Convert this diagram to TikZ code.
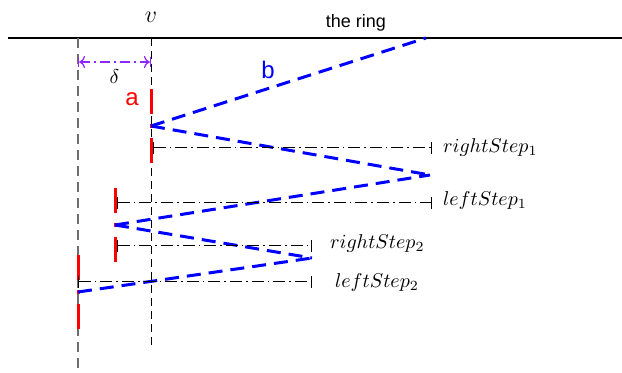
\documentclass[tikz,border=0pt]{standalone}
\usepackage{fontspec}
\setsansfont{Liberation Sans}
\usepackage{tikz}
\usetikzlibrary{arrows.meta, positioning, calc}
\definecolor{cRay}{RGB}{0,0,255}
\definecolor{cStop}{RGB}{255,0,0}
\definecolor{cDelta}{RGB}{140,40,255}
\definecolor{cGuide}{RGB}{110,110,110}
\tikzset{
	ringline/.style ={line width=0.9pt},
	vguide/.style   ={line width=0.5pt, dash pattern=on 4pt off 2.5pt},
	wguide/.style   ={line width=0.9pt, cGuide, dash pattern=on 5pt off 3pt},
	deltaarrow/.style={cDelta, line width=0.6pt, dash pattern=on 5pt off 2pt on 1pt off 2pt, |<->|},
	% path of the ray and the stops on it
	ray/.style      ={cRay, line width=1.5pt, dash pattern=on 7pt off 4pt},
	stopmark/.style ={cStop, line width=1.5pt, dash pattern=on 12.5pt off 5pt on 2pt off 5pt},
	% step measures
	span/.style     ={line width=0.5pt, dash pattern=on 6pt off 2pt on 0.8pt off 2pt, {Bar[width=6pt]}-{Bar[width=6pt]}},
	lbl/.style      ={font=\sffamily\large},
}
\begin{document}
\begin{tikzpicture}[x=0.5pt, y=-0.5pt]
	\useasboundingbox (0,0) rectangle (622,373);
	% the ring and the guides
	\coordinate (ringL) at (8,38);
	\coordinate (ringR) at (622,38);
	\draw[ringline] (ringL) -- (ringR);
	\node[font=\sffamily\small] (ring) at (356,23) {the ring};
	\node[font=\large] (v) at (151,17) {$v$};
	\coordinate (vtop) at (151,38);
	\coordinate (vbot) at (151,348);
	\coordinate (wtop) at (78,38);
	\coordinate (wbot) at (78,370);
	\draw[vguide] (vtop) -- (vbot);
	\draw[wguide] (wtop) -- (wbot);
	\coordinate (dL) at (78,62);
	\coordinate (dR) at (151,62);
	\draw[deltaarrow] (dL) -- node[below, black] (delta) {$\delta$} (dR);
	% corners of the ray
	\coordinate (r0) at (426,38);
	\coordinate (p1) at (151,126);
	\coordinate (r1) at (430,175);
	\coordinate (p2) at (115,225);
	\coordinate (r2) at (312,258);
	\coordinate (p3) at (78,292);
	\foreach \p in {p1,p2,p3} {
		\draw[stopmark] (\p) ++(0,-37) -- ++(0,74);
	}
	\draw[ray] (p1) -- (r0);
	\draw[ray] (p1) -- (r1);
	\draw[ray] (p2) -- (r1);
	\draw[ray] (p2) -- (r2);
	\draw[ray] (p3) -- (r2);
	\node[lbl, cStop] (a) at (132,99) {a};
	\node[lbl, cRay] (b) at (268,70) {b};
	% the steps
	\coordinate (rs1L) at (153,148);
	\coordinate (rs1R) at (432,148);
	\coordinate (ls1L) at (117,203);
	\coordinate (ls1R) at (432,203);
	\coordinate (rs2L) at (117,246);
	\coordinate (rs2R) at (312,246);
	\coordinate (ls2L) at (78,282);
	\coordinate (ls2R) at (312,282);
	\draw[span] (rs1L) -- (rs1R);
	\draw[span] (ls1L) -- (ls1R);
	\draw[span] (rs2L) -- (rs2R);
	\draw[span] (ls2L) -- (ls2R);
	\node[anchor=west] (rs1) at (436,148) {$rightStep_1$};
	\node[anchor=west] (ls1) at (436,201) {$leftStep_1$};
	\node[anchor=west] (rs2) at (323,244) {$rightStep_2$};
	\node[anchor=west] (ls2) at (328,283) {$leftStep_2$};
\end{tikzpicture}
\end{document}
